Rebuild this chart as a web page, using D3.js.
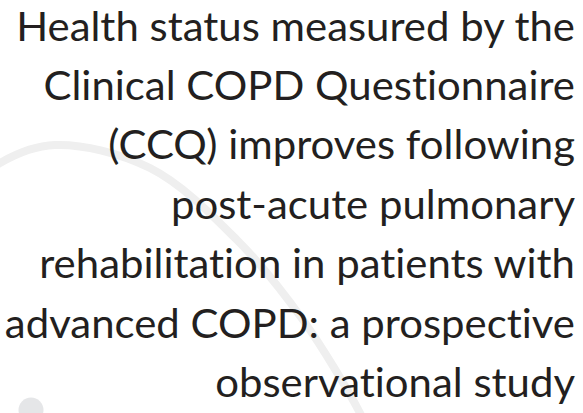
<!DOCTYPE html>
<html>
<head>
<meta charset="utf-8">
<script src="https://cdn.jsdelivr.net/npm/d3@7"></script>
<style>
  body { margin: 0; background: #fff; }
  svg { display: block; }
</style>
</head>
<body>
<script>
// title lines, right aligned
var titleLines = [
  "Health status measured by the",
  "Clinical COPD Questionnaire",
  "(CCQ) improves following",
  "post-acute pulmonary",
  "rehabilitation in patients with",
  "advanced COPD: a prospective",
  "observational study"
];

// background swoosh (decoration only)
var arcPoints = [[-30, 190], [0, 163], [55, 145], [150, 168], [237, 240], [303, 320], [360, 413], [372, 440]];

var width = 583, height = 413;

var svg = d3.select("body").append("svg")
    .attr("width", width)
    .attr("height", height);

svg.append("path")
    .datum(arcPoints)
    .attr("d", d3.line().curve(d3.curveCatmullRom))
    .attr("fill", "none")
    .attr("stroke", "#efefef")
    .attr("stroke-width", 8);

svg.append("circle")
    .attr("cx", 31)
    .attr("cy", 410)
    .attr("r", 12.5)
    .attr("fill", "#e5e6e8");

// baseline of each line
var y = d3.scaleLinear().domain([0, titleLines.length - 1]).range([40.5, 397]);

var g = svg.append("g");

g.selectAll("text")
    .data(titleLines)
    .enter().append("text")
        .text(function(d) { return d; })
        .attr("x", 0)
        .attr("y", function(d, i) { return y(i); })
        .attr("text-anchor", "end")
        .attr("fill", "#231f20")
        .style("font-family", "Lato, sans-serif")
        .style("font-size", "41px")
        .style("font-variant-ligatures", "none")
        .style("font-feature-settings", "'liga' 0, 'dlig' 0");

// fit the first line to x=16..575 like the original
var w = g.select("text").node().getComputedTextLength();
var sx = 559 / w;
g.attr("transform", "translate(575,0) scale(" + sx + ",1)");
</script>
</body>
</html>
